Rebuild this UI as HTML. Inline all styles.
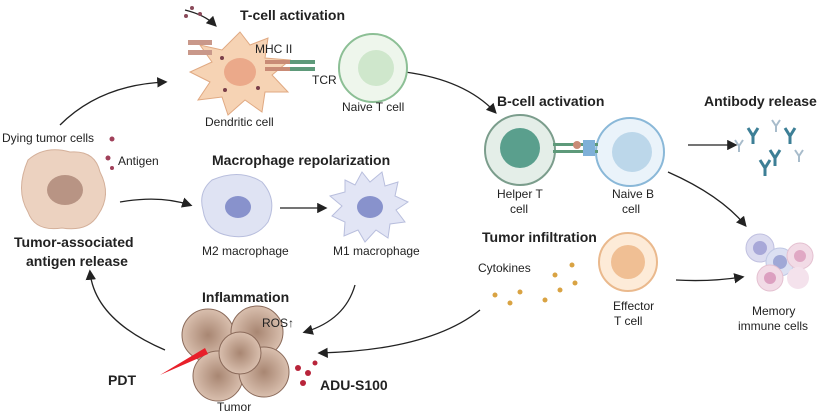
<!DOCTYPE html>
<html><head><meta charset="utf-8"><style>
html,body{margin:0;padding:0;background:#fff}
svg{display:block}
text{font-family:"Liberation Sans",sans-serif;fill:#222}
.b{font-weight:bold;font-size:14px}
.n{font-size:12px}
</style></head><body>
<svg width="818" height="417" viewBox="0 0 818 417">
<defs>
<marker id="ah" markerWidth="8" markerHeight="8" refX="6" refY="4" orient="auto"><path d="M0,0 L8,4 L0,8 z" fill="#222"/></marker>
<radialGradient id="tum" cx="50%" cy="50%" r="50%"><stop offset="0" stop-color="#a88672"/><stop offset="1" stop-color="#d9bfae"/></radialGradient>
</defs>
<g fill="none" stroke="#222" stroke-width="1.3" marker-end="url(#ah)">
<path d="M60,125 Q100,85 165,82"/>
<path d="M405,72 Q465,80 495,112"/>
<path d="M688,145 L735,145"/>
<path d="M668,172 Q720,195 745,225"/>
<path d="M676,280 Q710,282 742,277"/>
<path d="M480,310 Q430,350 320,353"/>
<path d="M120,202 Q160,195 190,205"/>
<path d="M280,208 L325,208"/>
<path d="M355,285 Q345,320 305,332"/>
<path d="M165,350 Q95,320 90,272"/>
<path d="M185,10 Q205,15 215,25"/>
</g>
<text class="b" x="240" y="20">T-cell activation</text>
<g>
<path d="M240,32 L250,45 L268,38 L265,58 L290,60 L272,75 L288,92 L265,92 L262,112 L245,100 L228,115 L222,97 L198,100 L210,82 L190,72 L212,62 L200,45 L222,50 Z" fill="#f6d3b4" stroke="#e0a982"/>
<ellipse cx="240" cy="72" rx="16" ry="14" fill="#eba98a"/>
<circle cx="222" cy="58" r="2" fill="#7a3e48"/><circle cx="258" cy="88" r="2" fill="#7a3e48"/><circle cx="225" cy="90" r="2" fill="#7a3e48"/>
<rect x="188" y="40" width="24" height="5" fill="#c9988a"/><rect x="188" y="50" width="24" height="5" fill="#c9988a"/>
</g>
<rect x="265" y="60" width="25" height="4" fill="#c98b76"/><rect x="265" y="67" width="25" height="4" fill="#c98b76"/>
<rect x="290" y="60" width="25" height="4" fill="#5e9a7a"/><rect x="290" y="67" width="25" height="4" fill="#5e9a7a"/>
<text class="n" x="255" y="53" font-size="11">MHC II</text>
<text class="n" x="312" y="84" font-size="11">TCR</text>
<circle cx="373" cy="68" r="34" fill="#eef6ec" stroke="#8cbf95" stroke-width="2"/>
<circle cx="376" cy="68" r="18" fill="#cfe7cc"/>
<text class="n" x="342" y="111">Naive T cell</text>
<text class="n" x="205" y="126">Dendritic cell</text>
<circle cx="192" cy="8" r="2" fill="#8a4a5a"/><circle cx="200" cy="14" r="2" fill="#8a4a5a"/><circle cx="186" cy="16" r="2" fill="#8a4a5a"/>

<text class="b" x="497" y="106">B-cell activation</text>
<circle cx="520" cy="150" r="35" fill="#e4eee8" stroke="#7b9d8c" stroke-width="2"/>
<circle cx="520" cy="148" r="20" fill="#5a9f8d"/>
<circle cx="630" cy="152" r="34" fill="#eaf3fa" stroke="#8ab8d8" stroke-width="2"/>
<circle cx="632" cy="152" r="20" fill="#bcd7ea"/>
<rect x="553" y="143" width="45" height="3" fill="#5e9a7a"/><rect x="553" y="150" width="45" height="3" fill="#5e9a7a"/>
<rect x="583" y="140" width="12" height="16" fill="#7fb0d8"/><circle cx="577" cy="145" r="4" fill="#c98b76"/>
<text class="n" x="497" y="198">Helper T</text>
<text class="n" x="510" y="213">cell</text>
<text class="n" x="612" y="198">Naive B</text>
<text class="n" x="622" y="213">cell</text>

<text class="b" x="704" y="106">Antibody release</text>
<g stroke-width="3" fill="none">
<path d="M748,128 l5,8 l5,-8 M753,136 v8" stroke="#3d7f96"/>
<path d="M770,150 l5,8 l5,-8 M775,158 v8" stroke="#3d7f96"/>
<path d="M785,128 l5,8 l5,-8 M790,136 v8" stroke="#3d7f96"/>
<path d="M760,160 l5,8 l5,-8 M765,168 v8" stroke="#3d7f96"/>
<path d="M735,140 l4,6 l4,-6 M739,146 v6" stroke="#a8bccb" stroke-width="2"/>
<path d="M772,120 l4,6 l4,-6 M776,126 v6" stroke="#a8bccb" stroke-width="2"/>
<path d="M795,150 l4,6 l4,-6 M799,156 v6" stroke="#a8bccb" stroke-width="2"/>
</g>

<g>
<circle cx="760" cy="248" r="14" fill="#dcdcf0" stroke="#c0c0e0"/><circle cx="760" cy="248" r="7" fill="#a8a8d8"/>
<circle cx="780" cy="262" r="14" fill="#dce0f2" stroke="#c0c8e4"/><circle cx="780" cy="262" r="7" fill="#a0a8d6"/>
<circle cx="800" cy="256" r="13" fill="#f2dbe6" stroke="#e4c0d0"/><circle cx="800" cy="256" r="6" fill="#e0a8c4"/>
<circle cx="770" cy="278" r="13" fill="#f2dbe6" stroke="#e4c0d0"/><circle cx="770" cy="278" r="6" fill="#dca0c0"/>
<circle cx="798" cy="278" r="11" fill="#f4e2ec"/>
</g>
<text class="n" x="752" y="315">Memory</text>
<text class="n" x="738" y="330">immune cells</text>

<text class="b" x="482" y="242">Tumor infiltration</text>
<text class="n" x="478" y="272">Cytokines</text>
<g fill="#d9a343">
<circle cx="572" cy="265" r="2.5"/><circle cx="555" cy="275" r="2.5"/><circle cx="575" cy="283" r="2.5"/><circle cx="495" cy="295" r="2.5"/><circle cx="520" cy="292" r="2.5"/><circle cx="545" cy="300" r="2.5"/><circle cx="560" cy="290" r="2.5"/><circle cx="510" cy="303" r="2.5"/>
</g>
<circle cx="628" cy="262" r="29" fill="#fdebd8" stroke="#eab98d" stroke-width="2"/>
<circle cx="628" cy="262" r="17" fill="#f0bf94"/>
<text class="n" x="613" y="310">Effector</text>
<text class="n" x="614" y="325">T cell</text>

<text class="n" x="2" y="142">Dying tumor cells</text>
<text class="n" x="118" y="165">Antigen</text>
<circle cx="112" cy="139" r="2.5" fill="#a0405a"/><circle cx="108" cy="158" r="2.5" fill="#a0405a"/><circle cx="112" cy="168" r="2" fill="#a0405a"/>
<g>
<path d="M28,160 Q45,145 70,152 Q95,150 100,172 Q112,195 98,215 Q88,232 62,228 Q35,232 28,212 Q15,190 28,160 Z" fill="#ecd2c0" stroke="#d4b09a"/>
<ellipse cx="65" cy="190" rx="18" ry="15" fill="#b89484"/>
</g>
<text class="b" x="14" y="247">Tumor-associated</text>
<text class="b" x="26" y="266">antigen release</text>

<text class="b" x="212" y="165">Macrophage repolarization</text>
<g>
<path d="M212,180 Q240,168 262,182 Q278,200 268,222 Q255,240 230,236 Q206,232 203,210 Q198,192 212,180 Z" fill="#dfe3f3" stroke="#b8bedd"/>
<ellipse cx="238" cy="207" rx="13" ry="11" fill="#8892cc"/>
</g>
<text class="n" x="202" y="255">M2 macrophage</text>
<g>
<path d="M345,180 L355,185 L362,172 L370,182 L382,172 L385,186 L398,182 L395,196 L408,202 L396,210 L405,222 L390,224 L388,238 L376,230 L365,242 L358,230 L344,236 L345,222 L332,216 L342,206 L330,196 L345,192 Z" fill="#e2e5f5" stroke="#b8bedd"/>
<ellipse cx="370" cy="207" rx="13" ry="11" fill="#8892cc"/>
</g>
<text class="n" x="333" y="255">M1 macrophage</text>

<text class="b" x="202" y="302">Inflammation</text>
<g stroke="#8a6a5a">
<circle cx="208" cy="335" r="26" fill="url(#tum)"/>
<circle cx="257" cy="332" r="26" fill="url(#tum)"/>
<circle cx="218" cy="376" r="25" fill="url(#tum)"/>
<circle cx="264" cy="372" r="25" fill="url(#tum)"/>
<circle cx="240" cy="353" r="21" fill="url(#tum)"/>
</g>
<text class="n" x="262" y="327" font-size="11">ROS↑</text>
<text class="n" x="217" y="411">Tumor</text>
<polygon points="160,375 205,348 208,354" fill="#e8202a"/>
<text class="b" x="108" y="385" font-size="15">PDT</text>
<g fill="#b8243a">
<circle cx="298" cy="368" r="3"/><circle cx="308" cy="373" r="3"/><circle cx="303" cy="383" r="3"/><circle cx="315" cy="363" r="2.5"/>
</g>
<text class="b" x="320" y="390" font-size="15">ADU-S100</text>
</svg>
</body></html>
